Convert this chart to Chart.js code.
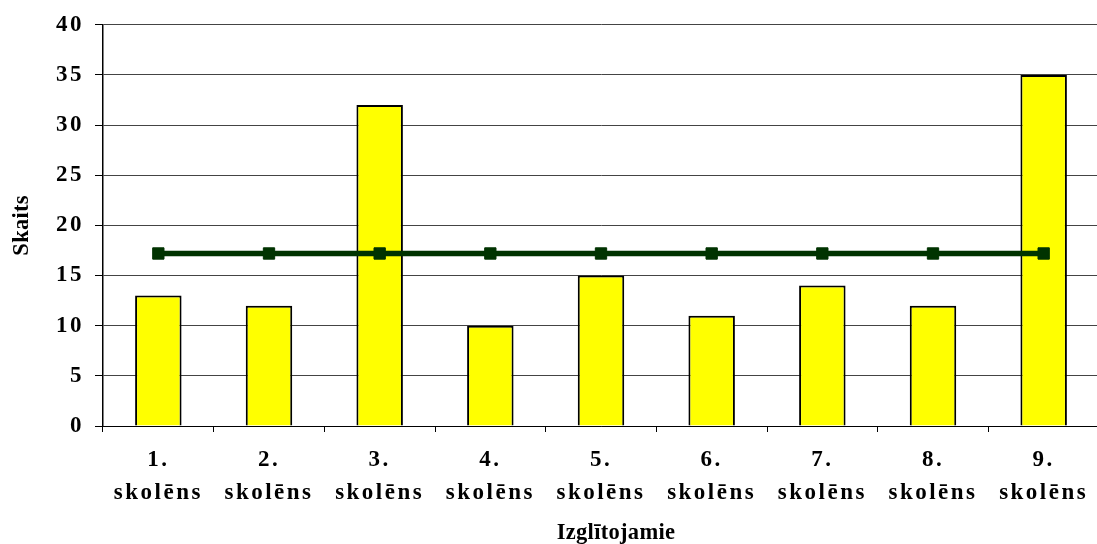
<!DOCTYPE html>
<html>
<head>
<meta charset="utf-8">
<script src="https://cdn.jsdelivr.net/npm/chart.js@4/dist/chart.umd.min.js"></script>
<style>
  html, body { margin: 0; padding: 0; background: #fff; overflow: hidden; }
  #wrap { width: 1108px; height: 544px; position: relative; }
</style>
</head>
<body>
<div id="wrap"><canvas id="c"></canvas></div>
<script>
const categories = [
  ['1.', 'skolēns'], ['2.', 'skolēns'], ['3.', 'skolēns'],
  ['4.', 'skolēns'], ['5.', 'skolēns'], ['6.', 'skolēns'],
  ['7.', 'skolēns'], ['8.', 'skolēns'], ['9.', 'skolēns']
];
const counts = [13, 12, 32, 10, 15, 11, 14, 12, 35];
const average = [17.2, 17.2, 17.2, 17.2, 17.2, 17.2, 17.2, 17.2, 17.2];
const yMin = 0, yMax = 40, yStep = 5;
const xTitle = 'Izglītojamie';
const yTitle = 'Skaits';

const FONT = '"Liberation Serif", "Times New Roman", serif';

const spacingPlugin = {
  id: 'spacing',
  beforeDraw(chart) {
    chart.ctx.letterSpacing = '2.5px';
    ['x', 'y'].forEach(id => {
      const s = chart.scales[id];
      if (!s._wrapped) {
        const orig = s.drawTitle;
        s.drawTitle = function () {
          const ctx = this.ctx;
          ctx.save();
          ctx.letterSpacing = '0.3px';
          if (id === 'x') ctx.translate(15, 3);
          orig.apply(this, arguments);
          ctx.restore();
        };
        s._wrapped = true;
      }
    });
  },
  afterDraw(chart) {
    chart.ctx.letterSpacing = '0px';
  }
};

new Chart(document.getElementById('c'), {
  data: {
    labels: categories,
    datasets: [
      {
        type: 'line',
        data: average,
        borderColor: '#003300',
        backgroundColor: '#003300',
        borderWidth: 5.5,
        pointStyle: 'rect',
        pointRadius: 8,
        pointBorderWidth: 1,
        pointBackgroundColor: '#003300',
        pointBorderColor: '#003300',
        tension: 0,
        order: 0
      },
      {
        type: 'bar',
        data: counts,
        backgroundColor: '#FFFF00',
        borderColor: '#000000',
        borderWidth: 2,
        categoryPercentage: 1,
        barPercentage: 0.42,
        order: 1
      }
    ]
  },
  plugins: [spacingPlugin],
  options: {
    responsive: true,
    maintainAspectRatio: false,
    animation: false,
    layout: { padding: { top: 24, left: 0, right: 0, bottom: 0 } },
    plugins: { legend: { display: false }, tooltip: { enabled: false } },
    scales: {
      x: {
        offset: true,
        afterFit(s) { s.height = 118; },
        grid: {
          offset: true,
          drawOnChartArea: false,
          drawTicks: true,
          tickLength: 6,
          color: '#000'
        },
        border: { display: true, color: '#000', width: 1 },
        ticks: {
          color: '#000',
          padding: 12,
          maxRotation: 0,
          autoSkip: false,
          font: { family: FONT, size: 23, weight: 'bold', lineHeight: 1.43 }
        },
        title: {
          display: true,
          text: xTitle,
          color: '#000',
          padding: { top: 0, bottom: 0 },
          font: { family: FONT, size: 22.5, weight: 'bold', lineHeight: 1.2 }
        }
      },
      y: {
        min: yMin,
        max: yMax,
        afterFit(s) { s.width = 103; },
        grid: {
          color: '#444',
          lineWidth: 1,
          drawTicks: true,
          tickLength: 8,
          tickColor: '#000'
        },
        border: { display: true, color: '#000', width: 1.5 },
        ticks: {
          stepSize: yStep,
          color: '#000',
          padding: 11,
          font: { family: FONT, size: 23, weight: 'bold' }
        },
        title: {
          display: true,
          text: yTitle,
          color: '#000',
          padding: { top: 9, bottom: 0 },
          font: { family: FONT, size: 22.5, weight: 'bold', lineHeight: 1.2 }
        }
      }
    }
  }
});
</script>
</body>
</html>
